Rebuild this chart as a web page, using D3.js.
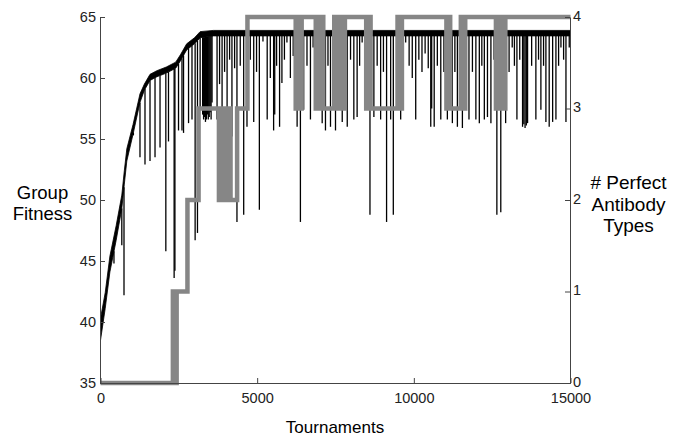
<!DOCTYPE html>
<html>
<head>
<meta charset="utf-8">
<script src="https://cdn.jsdelivr.net/npm/d3@7"></script>
<style>
  html, body { margin: 0; padding: 0; background: #fff; }
  svg { display: block; }
  text { font-family: "Liberation Sans", Arial, Helvetica, sans-serif; }
</style>
</head>
<body>
<svg id="chart" width="685" height="441"></svg>
<script>
// ---------------- data ----------------
const xTicks = [0, 5000, 10000, 15000];
const yLeftTicks = [35, 40, 45, 50, 55, 60, 65];
const yRightTicks = [0, 1, 2, 3, 4];

// Group fitness: upper and lower edge of the dense black trace [tournament, fitness]
const fitnessUpper = [[0,40.3],[150,42.4],[300,45.4],[500,47.9],[680,50.4],[760,52.4],[840,54.2],[1040,56.2],
  [1260,58.7],[1400,59.5],[1580,60.3],[1800,60.6],[2100,60.9],[2400,61.3],[2550,61.9],[2750,62.8],
  [3000,63.3],[3180,63.8],[3600,63.9],[15000,63.9]];
const fitnessLower = [[0,38.5],[150,41.1],[300,44.1],[500,46.7],[680,49.3],[760,51.3],[840,53.2],[1040,55.4],
  [1260,58.0],[1400,59.0],[1580,59.8],[1800,60.1],[2100,60.4],[2400,60.8],[2550,61.4],[2750,62.3],
  [3000,62.8],[3180,63.3],[3600,63.45],[15000,63.45]];

// Downward spikes of the fitness trace [tournament, lowest fitness]
const fitnessDips = [
  [430,44.8],[680,46.3],[750,42.2],[1050,55.3],[1260,53.5],[1420,52.9],[1580,53.2],[1740,53.5],[1900,54.3],
  [2085,45.8],[2170,54.8],[2350,43.6],[2375,44.2],[2490,55.7],[2600,55.7],[2650,55.5],[2810,56.3],[2920,56.6],
  [3020,46.7],[3095,47.3],[3180,57.4],[3260,57.0],[3290,56.6],[3320,56.8],[3350,56.4],[3380,56.6],[3410,57.0],
  [3440,56.6],[3470,56.8],[3500,57.2],[3530,56.6],[3560,58.0],[3720,56.6],[3800,59.5],[3880,57.1],[3960,60.5],
  [4040,56.6],[4120,61.5],[4195,55.2],[4280,60.8],[4355,48.2],[4460,61.0],[4570,48.8],[4675,56.0],[4780,61.5],
  [4890,56.4],[4980,60.5],[5070,49.2],[5185,63.0],[5320,56.6],[5420,60.0],[5525,55.7],[5560,57.0],[5620,61.0],
  [5715,56.0],[5790,59.6],[5870,61.5],[5950,62.9],[6060,60.0],[6150,61.8],[6275,56.0],[6380,48.2],[6485,57.4],
  [6590,61.0],[6700,56.6],[6785,62.5],[6950,60.5],[7075,56.3],[7180,55.7],[7260,61.0],[7340,56.0],[7420,60.0],
  [7500,55.7],[7600,61.5],[7715,56.4],[7800,60.8],[7875,56.0],[7980,61.5],[8085,56.6],[8190,56.8],[8270,61.0],
  [8350,62.9],[8460,60.0],[8600,48.8],[8725,56.8],[8830,61.0],[8940,56.6],[9030,60.5],[9130,48.2],[9260,56.6],
  [9345,48.8],[9460,61.5],[9580,56.6],[9660,60.0],[9740,62.9],[9850,61.0],[9950,60.0],[10060,56.6],[10160,61.5],
  [10260,60.5],[10360,62.0],[10460,60.8],[10540,56.0],[10570,57.5],[10650,56.0],[10750,61.0],[10860,56.6],
  [10960,60.5],[11070,56.6],[11150,61.0],[11230,56.3],[11310,60.5],[11390,56.0],[11470,61.5],[11550,55.9],
  [11650,61.0],[11760,56.6],[11870,60.5],[11980,56.6],[12090,56.3],[12170,61.0],[12250,56.6],[12350,56.8],
  [12460,56.3],[12560,61.5],[12650,48.8],[12775,49.0],[12850,61.0],[12930,56.3],[13040,60.5],[13140,62.5],
  [13210,61.0],[13290,56.6],[13380,61.5],[13470,56.0],[13510,56.2],[13550,55.9],[13590,56.1],[13630,56.3],
  [13760,61.0],[13895,56.6],[13980,61.5],[14055,57.4],[14140,61.0],[14215,56.4],[14320,56.0],[14430,56.4],
  [14535,56.6],[14620,61.0],[14695,62.5],[14780,61.5],[14855,56.4],[14960,62.5]
];

// Number of perfect antibody types, a step series [tournament, count]
const perfectTypes = [[0,0],[2310,1],[2370,0],[2430,1],[2775,2],[3130,3],
  [3780,2],[3830,3],[3880,2],[3930,3],[3980,2],[4030,3],[4150,2],[4360,3],[4690,4],
  [6230,3],[6290,4],[6350,3],[6420,4],
  [6870,3],[6930,4],[6990,3],[7050,4],[7110,3],[7460,4],[7520,3],[7580,4],[7640,3],[7700,4],[7760,3],[7800,4],
  [8480,3],[8560,4],[8620,3],[9480,4],[9540,3],[9620,4],
  [11040,3],[11100,4],[11160,3],[11500,4],[11560,3],[11640,4],
  [12620,3],[12680,4],[12740,3],[12800,4],[12860,3],[12920,4],[15000,4]];

// ---------------- chart ----------------
const svg = d3.select("#chart");
const x = d3.scaleLinear().domain([0, 15000]).range([100.5, 570.5]);
const yL = d3.scaleLinear().domain([35, 65]).range([383, 17]);
const yR = d3.scaleLinear().domain([0, 4]).range([383, 17]);
const lowerAt = d3.scaleLinear().domain(fitnessLower.map(d => d[0])).range(fitnessLower.map(d => d[1]));

const axisColor = "#444";
const fontSize = "14.5px";

// fitness band
const band = fitnessUpper.map((d, i) => ({ t: d[0], hi: d[1], lo: fitnessLower[i][1] }));
svg.append("path")
  .datum(band)
  .attr("fill", "#000")
  .attr("stroke", "#000")
  .attr("stroke-width", 0.8)
  .attr("d", d3.area().x(d => x(d.t)).y0(d => yL(d.lo)).y1(d => yL(d.hi)));

// fitness dips
svg.append("g").selectAll("line")
  .data(fitnessDips)
  .join("line")
  .attr("x1", d => x(d[0])).attr("x2", d => x(d[0]))
  .attr("y1", d => yL(lowerAt(d[0])))
  .attr("y2", d => yL(d[1]))
  .attr("stroke", "#000")
  .attr("stroke-width", 1.3);

// perfect antibody types (grey step line)
svg.append("path")
  .datum(perfectTypes)
  .attr("fill", "none")
  .attr("stroke", "#868686")
  .attr("stroke-width", 4.5)
  .attr("stroke-linejoin", "miter")
  .attr("d", d3.line().x(d => x(d[0])).y(d => yR(d[1])).curve(d3.curveStepAfter));

// axes
function styleAxis(g) {
  g.selectAll("path.domain").attr("stroke", axisColor);
  g.selectAll(".tick line").attr("stroke", axisColor);
  g.selectAll(".tick text").attr("fill", "#222").style("font-size", fontSize)
    .style("font-family", '"Liberation Sans", Arial, sans-serif');
}

svg.append("g")
  .attr("transform", "translate(100,0)")
  .call(d3.axisLeft(yL).tickValues(yLeftTicks).tickSizeInner(-5).tickSizeOuter(0).tickPadding(4).tickFormat(d3.format("d")))
  .call(styleAxis);

svg.append("g")
  .attr("transform", "translate(570,0)")
  .call(d3.axisRight(yR).tickValues(yRightTicks).tickSizeInner(-5).tickSizeOuter(0).tickPadding(3).tickFormat(d3.format("d")))
  .call(styleAxis)
  .call(g => g.selectAll(".tick text").attr("dy", "0.22em"));

svg.append("g")
  .attr("transform", "translate(0,383)")
  .call(d3.axisBottom(x).tickValues(xTicks).tickSizeInner(-5).tickSizeOuter(0).tickPadding(9.5).tickFormat(d3.format("d")))
  .call(styleAxis);

// titles
const titleStyle = (s, size) => s.attr("fill", "#000").style("font-size", size).attr("text-anchor", "middle");
svg.append("text").attr("x", 42.5).attr("y", 198.5).text("Group").call(titleStyle, "18.5px");
svg.append("text").attr("x", 42.5).attr("y", 220).text("Fitness").call(titleStyle, "18.5px");
svg.append("text").attr("x", 628.5).attr("y", 188.5).text("# Perfect").call(titleStyle, "19px");
svg.append("text").attr("x", 628.5).attr("y", 210.5).text("Antibody").call(titleStyle, "19px");
svg.append("text").attr("x", 628.5).attr("y", 232).text("Types").call(titleStyle, "19px");
svg.append("text").attr("x", 335).attr("y", 433).text("Tournaments").call(titleStyle, "17px");
</script>
</body>
</html>
